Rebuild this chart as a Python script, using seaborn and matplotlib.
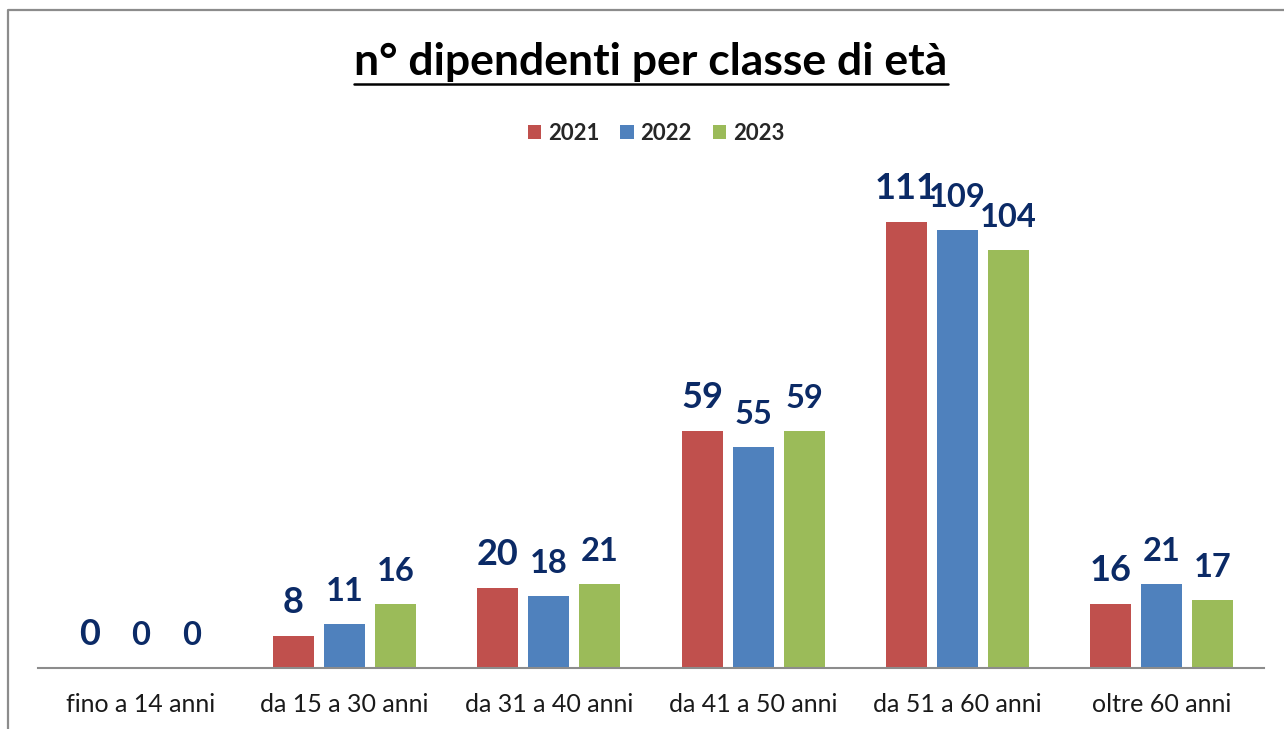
import pandas as pd
import matplotlib.pyplot as plt
import seaborn as sns
from matplotlib.lines import Line2D

# Data
classi = ['fino a 14 anni', 'da 15 a 30 anni', 'da 31 a 40 anni',
          'da 41 a 50 anni', 'da 51 a 60 anni', 'oltre 60 anni']
anni = ['2021', '2022', '2023']
dip_2021 = [0, 8, 20, 59, 111, 16]
dip_2022 = [0, 11, 18, 55, 109, 21]
dip_2023 = [0, 16, 21, 59, 104, 17]

colori = ['#C0504D', '#4F81BD', '#9BBB59']
label_color = '#0B2A66'

# Long-form table for seaborn
df = pd.DataFrame({
    'classe': classi * 3,
    'anno': [a for a in anni for _ in classi],
    'n': dip_2021 + dip_2022 + dip_2023,
})

sns.set_style('white')
plt.rcParams['font.family'] = ['Lato', 'DejaVu Sans']

fig = plt.figure(figsize=(12.84, 7.29), dpi=100)
ax = fig.add_axes([38 / 1284, 61 / 729, (1264 - 38) / 1284, (668 - 160) / 729])

sns.barplot(data=df, x='classe', y='n', hue='anno', order=classi, hue_order=anni,
            palette=colori, saturation=1, width=0.75, gap=0.2, errorbar=None,
            linewidth=0, legend=True, ax=ax)

ax.set_xlim(-0.5, 5.5)
ax.set_ylim(0, 126.5)

# Value labels (2021 labels are drawn bigger, as in the original)
label_sizes = [26, 23.5, 23.5]
for container, fs in zip(ax.containers, label_sizes):
    for bar in container:
        h = bar.get_height()
        ax.annotate(f'{int(h)}', (bar.get_x() + bar.get_width() / 2, h),
                    xytext=(0, 16.5), textcoords='offset points',
                    ha='center', va='baseline', fontsize=fs,
                    fontweight='bold', color=label_color)

# Axes styling
for side in ['top', 'right', 'left']:
    ax.spines[side].set_visible(False)
ax.spines['bottom'].set_color('#8C8C8C')
ax.spines['bottom'].set_linewidth(1.5)
ax.set_yticks([])
ax.set_xlabel('')
ax.set_ylabel('')
ax.tick_params(axis='x', length=0, pad=18, labelsize=18, labelcolor='#1a1a1a')

# Legend on top, centred
handles, labels = ax.get_legend_handles_labels()
ax.get_legend().remove()
fig.legend(handles, labels, loc='center', bbox_to_anchor=(656 / 1284, 1 - 133 / 729),
           ncol=3, frameon=False, handlelength=0.6, handleheight=0.6,
           handletextpad=0.3, columnspacing=0.95,
           prop={'weight': 'bold', 'size': 16})

# Title with underline
title = fig.text(651 / 1284, 1 - 75 / 729, 'n° dipendenti per classe di età',
                 ha='center', va='baseline', fontsize=32, fontweight='bold',
                 color='black')
fig.canvas.draw()
bb = title.get_window_extent().transformed(fig.transFigure.inverted())
uy = 1 - 84 / 729
fig.add_artist(Line2D([bb.x0, bb.x1], [uy, uy], transform=fig.transFigure,
                      color='black', linewidth=1.8))

# Outer chart frame (only top and left edges are visible in the crop)
fx, fy = 8 / 1284, 1 - 10 / 729
fig.add_artist(Line2D([fx, fx, 1.0], [0.0, fy, fy], transform=fig.transFigure,
                      color='#8C8C8C', linewidth=1.6))

fig.savefig('out.png', dpi=100)
